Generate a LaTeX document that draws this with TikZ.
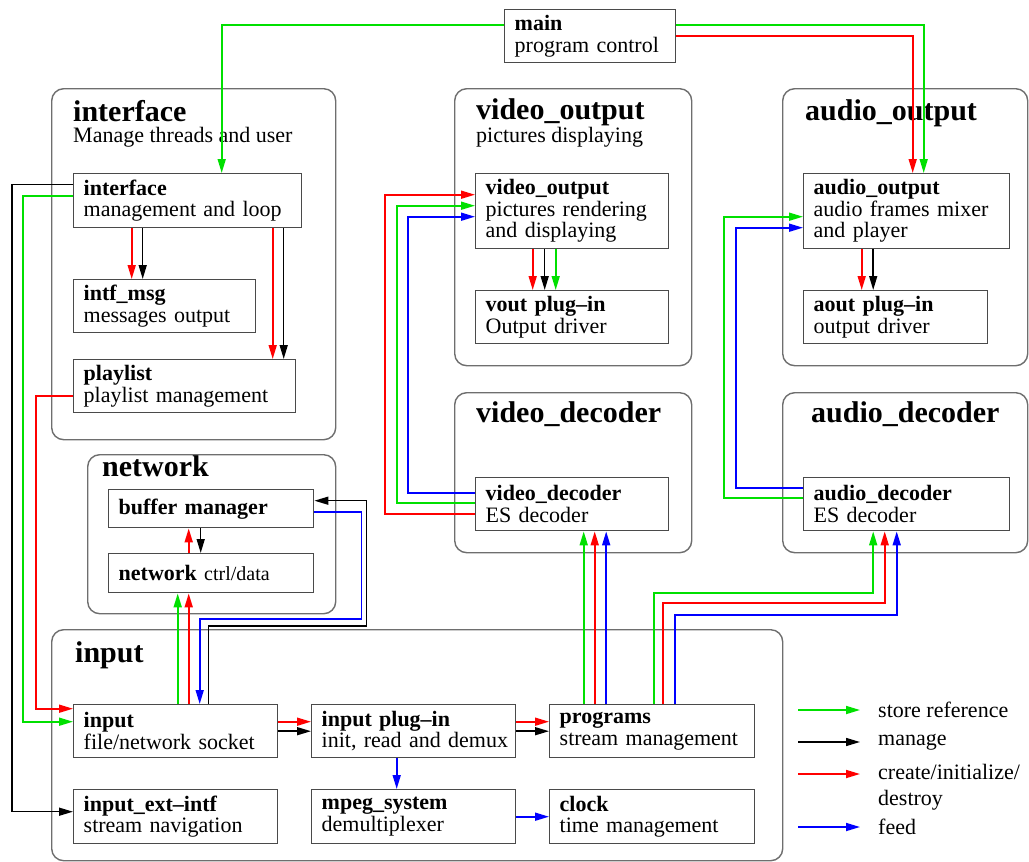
\documentclass[tikz,border=0pt]{standalone}
\usepackage{fontspec}
\setmainfont{Liberation Serif}
\usetikzlibrary{arrows.meta}
\definecolor{refGreen}{HTML}{00E000}
\definecolor{initRed}{HTML}{FF0000}
\definecolor{feedBlue}{HTML}{0000FF}
\definecolor{frameGray}{HTML}{6E6E6E}
\definecolor{boxGray}{HTML}{4A4A4A}

\begin{document}
\begin{tikzpicture}[
    x=1pt, y=-1pt,
    >={Triangle[length=14pt, width=8pt]},
    container/.style={draw=frameGray, line width=1.4pt, rounded corners=12pt,
                      anchor=north west, inner sep=0pt},
    module/.style={draw=boxGray, line width=1.4pt, fill=white, anchor=north west,
                   align=left, inner xsep=10pt, inner ysep=3pt,
                   font=\fontsize{22}{21.5}\selectfont},
    grptitle/.style={anchor=base west, inner sep=0pt,
                     font=\fontsize{30}{32}\selectfont\bfseries},
    grpsub/.style={anchor=base west, inner sep=0pt, font=\fontsize{22}{24}\selectfont},
    lgd/.style={anchor=west, inner sep=0pt, align=left,
                font=\fontsize{22}{26}\selectfont},
    storeln/.style={->, line width=1.7pt, refGreen},
    manageln/.style={->, line width=1.5pt, black},
    createln/.style={->, line width=1.7pt, initRed},
    feedln/.style={->, line width=1.7pt, feedBlue},
  ]
    \useasboundingbox (0,0) rectangle (1029,862);

    % Containers
    \node[container, minimum width=284pt, minimum height=351pt] (gIface) at (51,88) {};
    \node[container, minimum width=248pt, minimum height=159pt] (gNet) at (87,454) {};
    \node[container, minimum width=731pt, minimum height=231pt] (gInput) at (51,629) {};
    \node[container, minimum width=237pt, minimum height=277pt] (gVout) at (454,88) {};
    \node[container, minimum width=245pt, minimum height=277pt] (gAout) at (782,88) {};
    \node[container, minimum width=237pt, minimum height=160pt] (gVdec) at (454,392) {};
    \node[container, minimum width=245pt, minimum height=160pt] (gAdec) at (782,392) {};

    \node[grptitle] (tIface) at (73,121) {interface};
    \node[grpsub] (sIface) at (73,142) {Manage threads and user};
    \node[grptitle] (tNet) at (102,476) {network};
    \node[grptitle] (tInput) at (75,662) {input};
    \node[grptitle] (tVout) at (476,119) {video\_output};
    \node[grpsub] (sVout) at (476,142) {pictures displaying};
    \node[grptitle] (tAout) at (805,120) {audio\_output};
    \node[grptitle] (tVdec) at (476,422) {video\_decoder};
    \node[grptitle] (tAdec) at (811,422) {audio\_decoder};

    % Modules
    \node[module, text width=151pt, minimum height=53pt] (main) at (504,9)
      {\textbf{main}\\program control};
    \node[module, text width=208pt, minimum height=54pt] (iface) at (73,173)
      {\textbf{interface}\\management and loop};
    \node[module, text width=162pt, minimum height=53pt] (intfmsg) at (73,279)
      {\textbf{intf\_msg}\\messages output};
    \node[module, text width=202pt, minimum height=53pt] (plist) at (73,359)
      {\textbf{playlist}\\playlist management};
    \node[module, text width=185pt, minimum height=38pt] (bufmgr) at (108,489)
      {\textbf{buffer manager}};
    \node[module, text width=185pt, minimum height=39pt] (net) at (108,553)
      {\textbf{network} {\fontsize{20}{21}\selectfont ctrl/data}};
    \node[module, text width=184pt, minimum height=53pt] (inp) at (73,704)
      {\textbf{input}\\file/network socket};
    \node[module, text width=184pt, minimum height=53pt] (inplug) at (311,704)
      {\textbf{input plug--in}\\\mbox{init, read and demux}};
    \node[module, text width=185pt, minimum height=53pt] (progs) at (549,704)
      {\textbf{programs}\\stream management};
    \node[module, text width=184pt, minimum height=54pt] (inpext) at (73,789)
      {\textbf{input\_ext--intf}\\stream navigation};
    \node[module, text width=184pt, minimum height=54pt] (mpeg) at (311,789)
      {\textbf{mpeg\_system}\\demultiplexer};
    \node[module, text width=185pt, minimum height=54pt] (clock) at (549,789)
      {\textbf{clock}\\time management};
    \node[module, text width=173pt, minimum height=75pt] (vout) at (475,173)
      {\textbf{video\_output}\\pictures rendering\\and displaying};
    \node[module, text width=173pt, minimum height=53pt] (voutplug) at (475,290)
      {\textbf{vout plug--in}\\Output driver};
    \node[module, text width=186pt, minimum height=75pt] (aout) at (803,173)
      {\textbf{audio\_output}\\audio frames mixer\\and player};
    \node[module, text width=164pt, minimum height=53pt] (aoutplug) at (803,290)
      {\textbf{aout plug--in}\\output driver};
    \node[module, text width=173pt, minimum height=53pt] (vdec) at (475,477)
      {\textbf{video\_decoder}\\ES decoder};
    \node[module, text width=186pt, minimum height=53pt] (adec) at (803,477)
      {\textbf{audio\_decoder}\\ES decoder};

    % main
    \draw[storeln] ([yshift=11pt]main.west) -| ([xshift=34pt]iface.north);
    \draw[storeln] ([yshift=11pt]main.east) -| ([xshift=17pt]aout.north);
    \draw[createln] (main.east) -| ([xshift=6pt]aout.north);

    % interface
    \draw[manageln] ([yshift=16pt]iface.west) -- ++(-61,0) |- ([yshift=5pt]inpext.west);
    \draw[storeln] ([yshift=5pt]iface.west) -- ++(-50,0) |- ([yshift=9.5pt]inp.west);
    \draw[createln] ([yshift=-9.5pt]plist.west) -- ++(-37,0) |- ([yshift=22.5pt]inp.west);
    \draw[createln] ([xshift=-56pt]iface.south) -- ([xshift=-33pt]intfmsg.north);
    \draw[manageln] ([xshift=-45pt]iface.south) -- ([xshift=-22pt]intfmsg.north);
    \draw[createln] ([xshift=85pt]iface.south) -- ([xshift=88pt]plist.north);
    \draw[manageln] ([xshift=96pt]iface.south) -- ([xshift=99pt]plist.north);

    % network
    \draw[createln] ([xshift=-22.5pt]net.north) -- ([xshift=-22.5pt]bufmgr.south);
    \draw[manageln] ([xshift=-10.5pt]bufmgr.south) -- ([xshift=-10.5pt]net.north);
    \draw[storeln] ([xshift=2pt]inp.north) -- ([xshift=-33.5pt]net.south);
    \draw[createln] ([xshift=13pt]inp.north) -- ([xshift=-22.5pt]net.south);
    \draw[feedln] ([yshift=-3pt]bufmgr.east) -- ++(47,0) -- ++(0,107) -| ([xshift=24pt]inp.north);
    \draw[manageln] ([xshift=33pt]inp.north) -- ++(0,-78) -- ++(158,0) |- ([yshift=8pt]bufmgr.east);

    % input
    \draw[createln] ([yshift=9.5pt]inp.east) -- ([yshift=9.5pt]inplug.west);
    \draw[manageln] (inp.east) -- (inplug.west);
    \draw[createln] ([yshift=9.5pt]inplug.east) -- ([yshift=9.5pt]progs.west);
    \draw[manageln] (inplug.east) -- (progs.west);
    \draw[feedln] ([xshift=-17pt]inplug.south) -- ([xshift=-17pt]mpeg.north);
    \draw[feedln] (mpeg.east) -- (clock.west);

    % decoders
    \draw[storeln] ([xshift=-68.5pt]progs.north) -- ([xshift=11.5pt]vdec.south);
    \draw[createln] ([xshift=-57.5pt]progs.north) -- ([xshift=22.5pt]vdec.south);
    \draw[feedln] ([xshift=-46pt]progs.north) -- ([xshift=34pt]vdec.south);
    \draw[storeln] ([xshift=1.5pt]progs.north) -- ++(0,-111) -| ([xshift=-33.5pt]adec.south);
    \draw[createln] ([xshift=10.5pt]progs.north) -- ++(0,-101) -| ([xshift=-22pt]adec.south);
    \draw[feedln] ([xshift=22.5pt]progs.north) -- ++(0,-89) -| ([xshift=-10pt]adec.south);

    % outputs
    \draw[createln] ([yshift=-9.5pt]vdec.west) -- ++(-90,0) |- ([yshift=16.5pt]vout.west);
    \draw[storeln] ([yshift=1.5pt]vdec.west) -- ++(-78,0) |- ([yshift=5.5pt]vout.west);
    \draw[feedln] ([yshift=11.5pt]vdec.west) -- ++(-67,0) |- ([yshift=-5.5pt]vout.west);
    \draw[storeln] ([yshift=6.5pt]adec.west) -- ++(-79,0) |- ([yshift=-5.5pt]aout.west);
    \draw[feedln] ([yshift=16.5pt]adec.west) -- ++(-67,0) |- ([yshift=-16.5pt]aout.west);
    \draw[createln] ([xshift=-39.5pt]vout.south) -- ([xshift=-39.5pt]voutplug.north);
    \draw[manageln] ([xshift=-27.5pt]vout.south) -- ([xshift=-27.5pt]voutplug.north);
    \draw[storeln] ([xshift=-16.5pt]vout.south) -- ([xshift=-16.5pt]voutplug.north);
    \draw[createln] ([xshift=-45pt]aout.south) -- ([xshift=-34pt]aoutplug.north);
    \draw[manageln] ([xshift=-33.5pt]aout.south) -- ([xshift=-22.5pt]aoutplug.north);

    % legend
    \node[lgd] (lgStore) at (878,710) {store reference};
    \node[lgd] (lgManage) at (878,742) {manage};
    \node[lgd] (lgCreate) at (878,787) {create/initialize/\\destroy};
    \node[lgd] (lgFeed) at (878,827) {feed};
    \draw[storeln] ([xshift=-80pt]lgStore.west) -- ([xshift=-18pt]lgStore.west);
    \draw[manageln] ([xshift=-80pt]lgManage.west) -- ([xshift=-18pt]lgManage.west);
    \draw[createln] ([xshift=-80pt, yshift=13pt]lgCreate.west) -- ([xshift=-18pt, yshift=13pt]lgCreate.west);
    \draw[feedln] ([xshift=-80pt]lgFeed.west) -- ([xshift=-18pt]lgFeed.west);
\end{tikzpicture}
\end{document}
